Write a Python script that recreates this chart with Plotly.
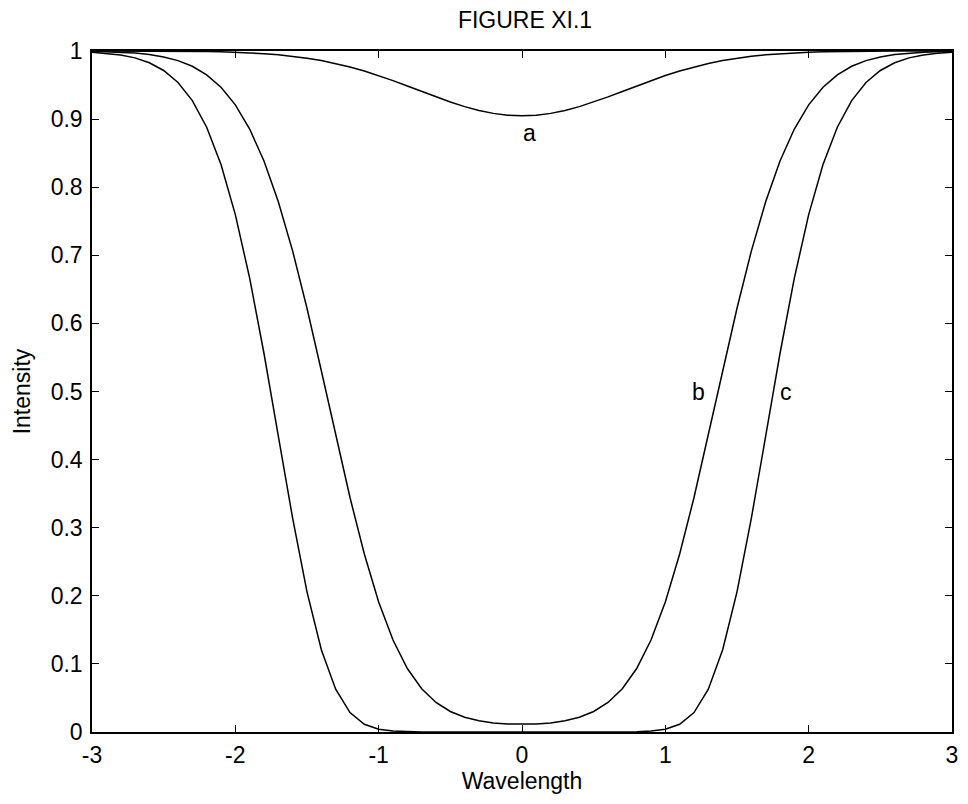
import plotly.graph_objects as go

# Wavelength samples (step 0.1 from -3 to 3)
wavelength = [round(-3 + 0.1 * i, 1) for i in range(61)]

# Intensity values, from x=-3 to x=3
curve_a = [1.0, 1.0, 1.0, 0.9999, 0.9999, 0.9998, 0.9997, 0.9995, 0.9992, 0.9988,
           0.9982, 0.9973, 0.9961, 0.9945, 0.9923, 0.9895, 0.9860, 0.9817, 0.9766, 0.9706,
           0.9639, 0.9565, 0.9486, 0.9406, 0.9326, 0.9251, 0.9183, 0.9127, 0.9084, 0.9057,
           0.9048,
           0.9057, 0.9084, 0.9127, 0.9183, 0.9251, 0.9326, 0.9406, 0.9486, 0.9565, 0.9639,
           0.9706, 0.9766, 0.9817, 0.9860, 0.9895, 0.9923, 0.9945, 0.9961, 0.9973, 0.9982,
           0.9988, 0.9992, 0.9995, 0.9997, 0.9998, 0.9999, 0.9999, 1.0, 1.0, 1.0]

curve_b = [0.9995, 0.9990, 0.9982, 0.9969, 0.9948, 0.9913, 0.9859, 0.9776, 0.9650, 0.9468,
           0.9209, 0.8854, 0.8384, 0.7787, 0.7062, 0.6223, 0.5305, 0.4359, 0.3443, 0.2613,
           0.1910, 0.1351, 0.0932, 0.0635, 0.0433, 0.0301, 0.0216, 0.0164, 0.0133, 0.0116,
           0.0111,
           0.0116, 0.0133, 0.0164, 0.0216, 0.0301, 0.0433, 0.0635, 0.0932, 0.1351, 0.1910,
           0.2613, 0.3443, 0.4359, 0.5305, 0.6223, 0.7062, 0.7787, 0.8384, 0.8854, 0.9209,
           0.9468, 0.9650, 0.9776, 0.9859, 0.9913, 0.9948, 0.9969, 0.9982, 0.9990, 0.9995]

curve_c = [0.9982, 0.9967, 0.9942, 0.9899, 0.9827, 0.9714, 0.9538, 0.9272, 0.8881, 0.8333,
           0.7597, 0.6664, 0.5558, 0.4344, 0.3137, 0.2058, 0.1209, 0.0628, 0.0286, 0.0114,
           0.0040, 0.0013, 0.0004, 0.0001, 0.0, 0.0, 0.0, 0.0, 0.0, 0.0,
           0.0,
           0.0, 0.0, 0.0, 0.0, 0.0, 0.0, 0.0001, 0.0004, 0.0013, 0.0040,
           0.0114, 0.0286, 0.0628, 0.1209, 0.2058, 0.3137, 0.4344, 0.5558, 0.6664, 0.7597,
           0.8333, 0.8881, 0.9272, 0.9538, 0.9714, 0.9827, 0.9899, 0.9942, 0.9967, 0.9982]

labels = ["a", "b", "c"]
label_x = [0.05, 1.23, 1.84]
label_y = [0.88, 0.5, 0.5]

x_ticks = [-3, -2, -1, 0, 1, 2, 3]
x_ticktext = ["-3", "-2", "-1", "0", "1", "2", "3"]
y_ticks = [0, 0.1, 0.2, 0.3, 0.4, 0.5, 0.6, 0.7, 0.8, 0.9, 1]
y_ticktext = ["0", "0.1", "0.2", "0.3", "0.4", "0.5", "0.6", "0.7", "0.8", "0.9", "1"]

FONT = "Liberation Sans, Arial, sans-serif"
FS = 23

fig = go.Figure()
for ys in (curve_a, curve_b, curve_c):
    fig.add_trace(go.Scatter(x=wavelength, y=ys, mode="lines",
                             line=dict(color="black", width=1.5),
                             showlegend=False, hoverinfo="skip"))

for t, lx, ly in zip(labels, label_x, label_y):
    fig.add_annotation(x=lx, y=ly, text=t, showarrow=False, xref="x", yref="y",
                       font=dict(family=FONT, size=FS, color="black"))

axis_common = dict(showline=True, linecolor="black", linewidth=1.5, mirror="ticks",
                   ticks="inside", ticklen=7, tickwidth=1.3, tickcolor="black",
                   showgrid=False, zeroline=False,
                   tickfont=dict(family=FONT, size=FS, color="black"))

fig.update_xaxes(range=[-3, 3], tickvals=x_ticks, ticktext=x_ticktext,
                 ticklabelstandoff=2,
                 title=dict(text="Wavelength", font=dict(family=FONT, size=FS, color="black"),
                            standoff=0),
                 **axis_common)
fig.update_yaxes(range=[0, 1], tickvals=y_ticks, ticktext=y_ticktext,
                 ticklabelstandoff=3,
                 title=dict(text="Intensity", font=dict(family=FONT, size=FS, color="black"),
                            standoff=14),
                 **axis_common)

fig.update_layout(
    width=968, height=804,
    margin=dict(l=92, r=10, t=51, b=72),
    paper_bgcolor="white", plot_bgcolor="white",
    title=dict(text="FIGURE XI.1", x=(92 + 958) / 2 / 968, xanchor="center",
               y=1 - 20 / 804, yanchor="middle",
               font=dict(family=FONT, size=FS, color="black")),
)

fig.write_html("out.html")
